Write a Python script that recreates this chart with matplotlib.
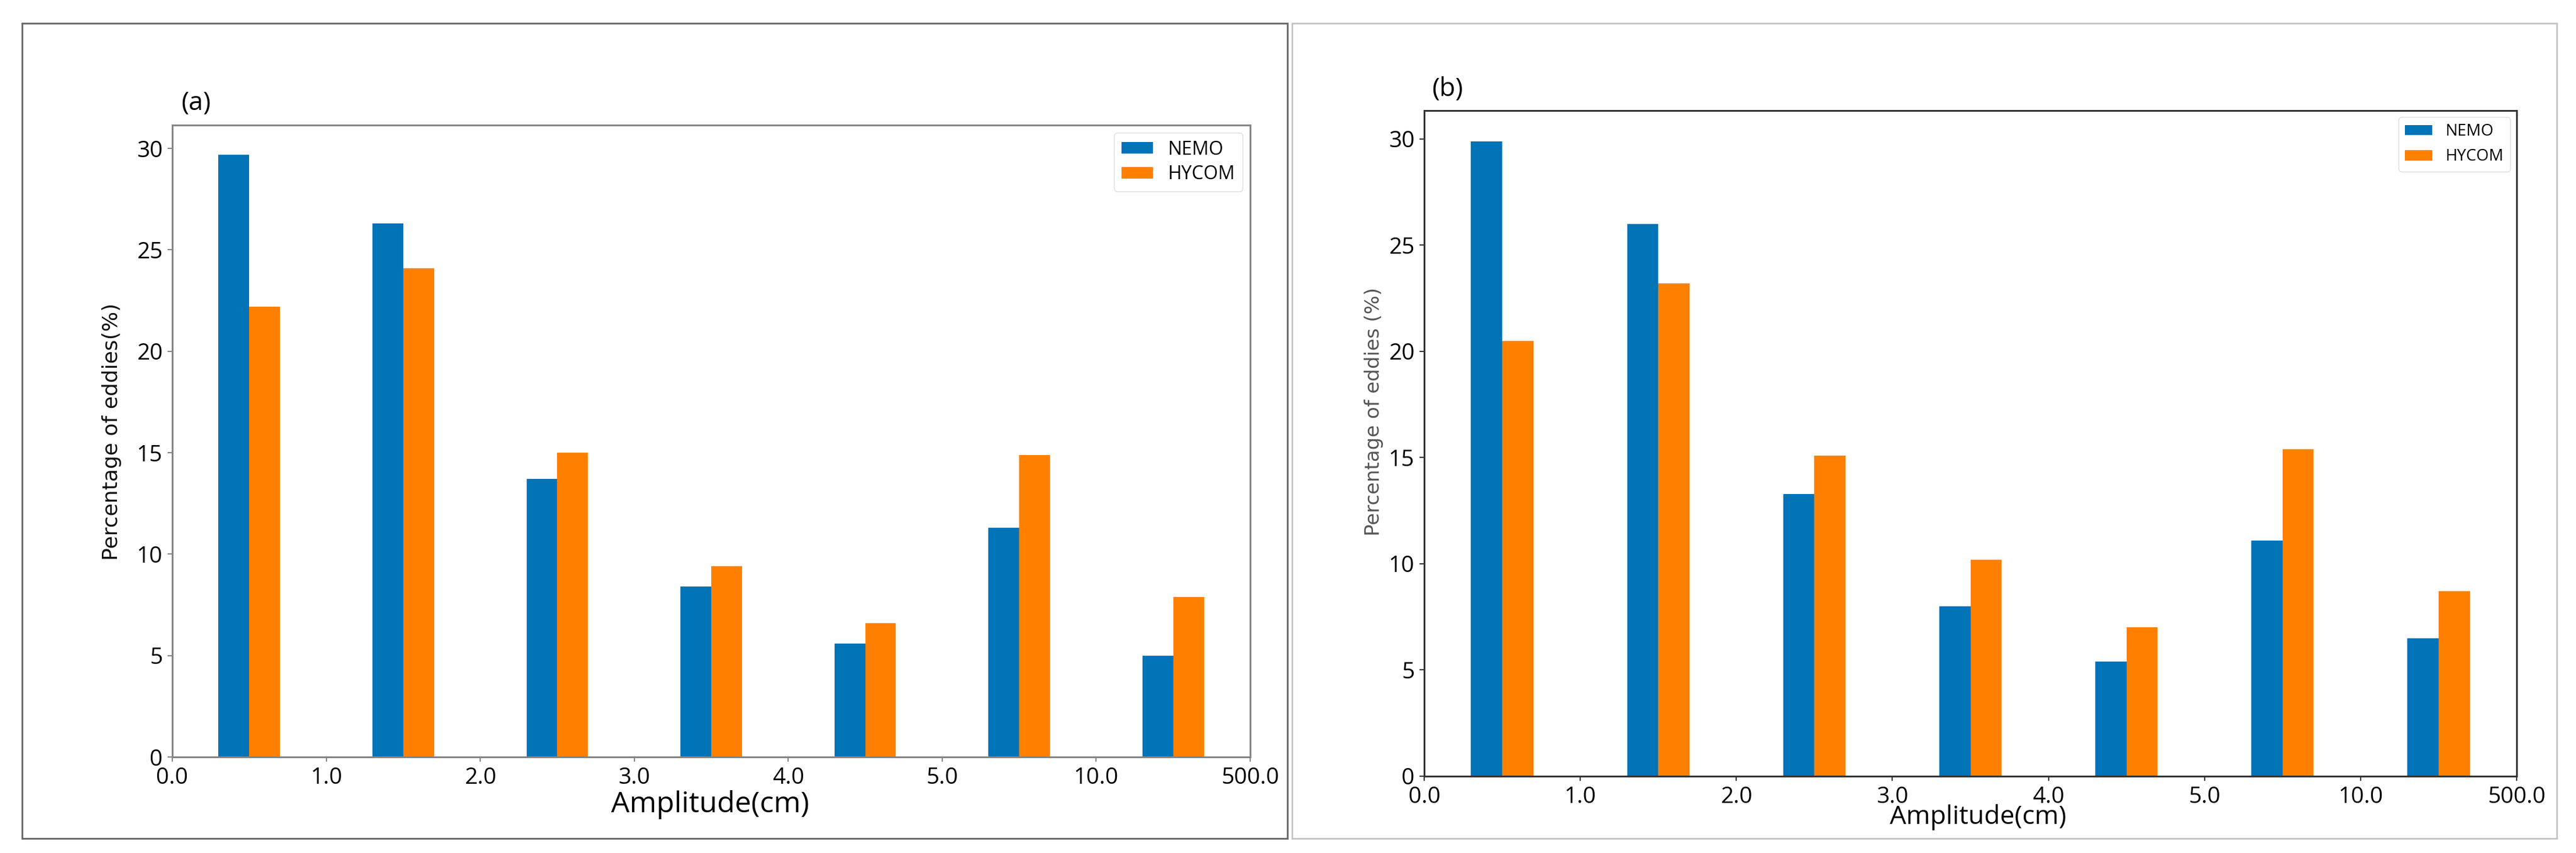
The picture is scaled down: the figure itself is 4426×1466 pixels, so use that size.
import numpy as np
import matplotlib
matplotlib.use('Agg')
import matplotlib.pyplot as plt
from matplotlib.patches import Rectangle

# Amplitude bins (tick labels at bin edges)
bin_edges = ['0.0', '1.0', '2.0', '3.0', '4.0', '5.0', '10.0', '500.0']

# Panel (a)
nemo_a = [29.7, 26.3, 13.7, 8.4, 5.6, 11.3, 5.0]
hycom_a = [22.2, 24.1, 15.0, 9.4, 6.6, 14.9, 7.9]

# Panel (b)
nemo_b = [29.9, 26.0, 13.3, 8.0, 5.4, 11.1, 6.5]
hycom_b = [20.5, 23.2, 15.1, 10.2, 7.0, 15.4, 8.7]

BLUE = '#0173B7'
ORANGE = '#FF8000'
TICK_FONT = ['Open Sans', 'DejaVu Sans']

W, H = 4426, 1466
fig = plt.figure(figsize=(W / 100, H / 100), dpi=100)

# panel frames
fig.patches.append(Rectangle((38 / W, 1 - 1441 / H), (2212 - 38) / W, (1441 - 40) / H,
                             transform=fig.transFigure, fill=False, edgecolor='#6e6e6e', linewidth=2.2))
fig.patches.append(Rectangle((2220 / W, 1 - 1441 / H), (4393 - 2220) / W, (1441 - 40) / H,
                             transform=fig.transFigure, fill=False, edgecolor='#c4c4c4', linewidth=2.0))


def draw_panel(rect, nemo, hycom, spine_color, ylabel, ylabel_size, ylabel_color,
               ylabel_xy, xlabel_size, xlabel_xy, leg_size, leg_spacing, ylim_top, tag, tag_xy):
    ax = fig.add_axes(rect)
    x = np.arange(len(nemo)) + 0.5
    ax.bar(x - 0.1, nemo, width=0.2, color=BLUE, label='NEMO')
    ax.bar(x + 0.1, hycom, width=0.2, color=ORANGE, label='HYCOM')

    ax.set_xlim(0, len(nemo))
    ax.set_ylim(0, ylim_top)
    ax.set_xticks(np.arange(len(bin_edges)))
    ax.set_xticklabels(bin_edges, family=TICK_FONT, fontsize=28)
    ax.set_yticks([0, 5, 10, 15, 20, 25, 30])
    ax.set_yticklabels(['0', '5', '10', '15', '20', '25', '30'], family=TICK_FONT, fontsize=28)
    ax.tick_params(axis='both', length=6, width=1.5, color=spine_color, pad=6)

    for s in ax.spines.values():
        s.set_color(spine_color)
        s.set_linewidth(2.2)

    ax.set_ylabel(ylabel, family=['DejaVu Sans'], fontsize=ylabel_size, color=ylabel_color)
    ax.yaxis.set_label_coords(*ylabel_xy)
    ax.yaxis.label.set_va('center')
    ax.set_xlabel('Amplitude(cm)', family=TICK_FONT, fontsize=xlabel_size)
    ax.xaxis.set_label_coords(*xlabel_xy)
    ax.xaxis.label.set_va('center')

    ax.legend(loc='upper right', prop={'family': TICK_FONT, 'size': leg_size},
              handlelength=1.7, handleheight=0.6, labelspacing=leg_spacing,
              borderaxespad=0.4, frameon=True, fancybox=True, framealpha=1,
              edgecolor='#dddddd')

    fig.text(tag_xy[0], tag_xy[1], tag, family=TICK_FONT, fontsize=32,
             ha='center', va='center')
    return ax


draw_panel([296 / W, 1 - 1301 / H, (2148 - 296) / W, (1301 - 215) / H],
           nemo_a, hycom_a, '#858585', 'Percentage of eddies(%)', 26, '#111111',
           (-0.056, 0.515), 36, (0.499, -0.0755), 23, 0.3, 31.15,
           '(a)', (337 / W, 1 - 177 / H))

draw_panel([2447 / W, 1 - 1334 / H, (4324 - 2447) / W, (1334 - 190) / H],
           nemo_b, hycom_b, '#333333', 'Percentage of eddies (%)', 24.5, '#555555',
           (-0.046, 0.548), 32, (0.507, -0.062), 20, 0.55, 31.34,
           '(b)', (2487 / W, 1 - 153 / H))

fig.savefig('out.png', dpi=100)
